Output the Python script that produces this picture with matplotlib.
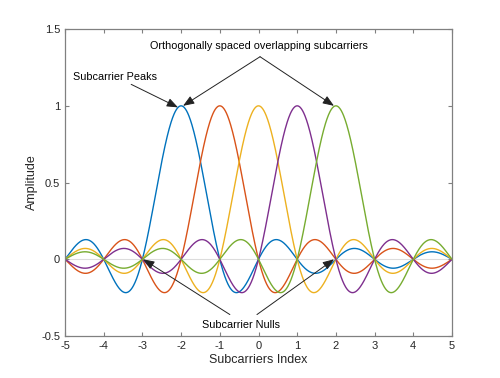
import numpy as np
import matplotlib.pyplot as plt

plt.rcParams['font.family'] = ['Liberation Sans', 'DejaVu Sans']
plt.rcParams['axes.unicode_minus'] = False

# subcarrier centres and MATLAB default colours
centres = [-2, -1, 0, 1, 2]
colors = ['#0072BD', '#D95319', '#EDB120', '#7E2F8E', '#77AC30']
xticks = [-5, -4, -3, -2, -1, 0, 1, 2, 3, 4, 5]
yticks = [-0.5, 0, 0.5, 1, 1.5]

x = np.linspace(-5, 5, 1001)

fig = plt.figure(figsize=(5, 3.78), dpi=100)
ax = fig.add_axes([0.13, 0.111, 0.774, 0.812])

ax.axhline(0, color='#dcdcdc', linewidth=0.8, zorder=0)
for c, col in zip(centres, colors):
    ax.plot(x, np.sinc(x - c), color=col, linewidth=1)

ax.set_xlim(-5, 5)
ax.set_ylim(-0.5, 1.5)
ax.set_xticks(xticks)
ax.set_yticks(yticks)
ax.set_yticklabels(['-0.5', '0', '0.5', '1', '1.5'])
ax.set_xlabel('Subcarriers Index', fontsize=9, color='#262626', labelpad=2)
ax.set_ylabel('Amplitude', fontsize=9, color='#262626', labelpad=2)
ax.tick_params(direction='in', top=True, right=True, labelsize=8,
               labelcolor='#262626', color='#808080', length=3, width=0.8)
for s in ax.spines.values():
    s.set_color('#808080')
    s.set_linewidth(0.9)

aprops = dict(arrowstyle='-|>,head_length=0.9,head_width=0.35',
              color='#222222', linewidth=0.7,
              mutation_scale=7.5, shrinkA=0, shrinkB=0)
ax.text(0.0, 1.39, 'Orthogonally spaced overlapping subcarriers',
        ha='center', va='center', fontsize=7.8)
ax.annotate('', xy=(-1.95, 1.0), xytext=(0.04, 1.32), arrowprops=aprops)
ax.annotate('', xy=(1.95, 1.0), xytext=(0.04, 1.32), arrowprops=aprops)

ax.text(-3.7, 1.19, 'Subcarrier Peaks', ha='center', va='center', fontsize=7.8)
ax.annotate('', xy=(-2.08, 0.99), xytext=(-3.29, 1.14), arrowprops=aprops)

ax.text(-0.45, -0.425, 'Subcarrier Nulls', ha='center', va='center', fontsize=7.8)
ax.annotate('', xy=(-2.98, 0.0), xytext=(-0.74, -0.36), arrowprops=aprops)
ax.annotate('', xy=(1.95, 0.0), xytext=(-0.04, -0.36), arrowprops=aprops)

plt.savefig('out.png', dpi=100)
